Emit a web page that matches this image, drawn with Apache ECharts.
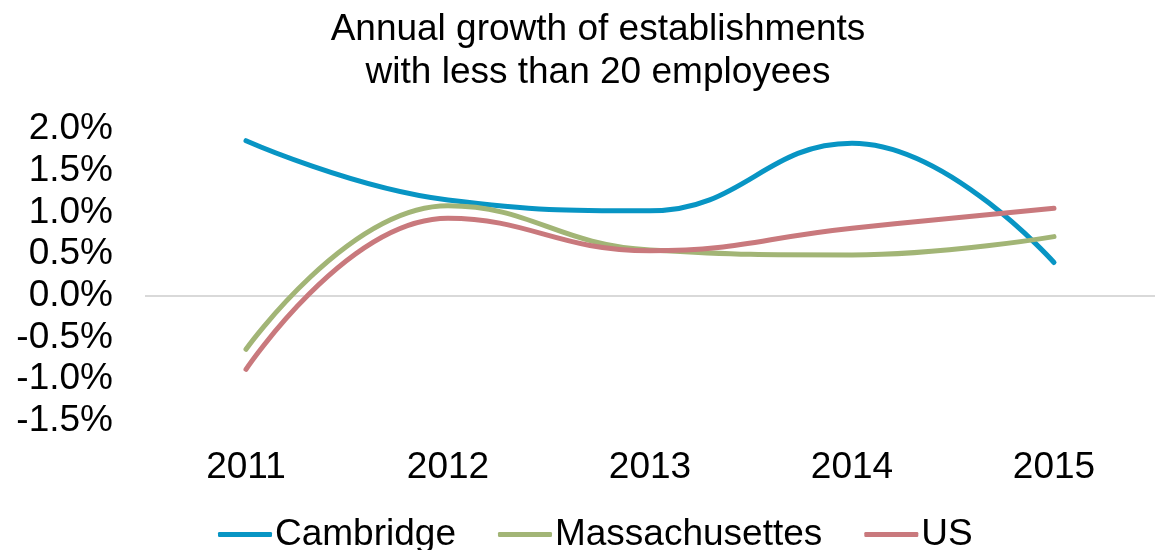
<!DOCTYPE html>
<html>
<head>
<meta charset="utf-8">
<script src="https://cdn.jsdelivr.net/npm/echarts@6/dist/echarts.min.js"></script>
<style>
  html, body { margin: 0; padding: 0; background: #fff; }
  #chart { width: 1157px; height: 550px; }
</style>
</head>
<body>
<div id="chart"></div>
<script>
// data (percent)
const years = ['2011', '2012', '2013', '2014', '2015']
const cambridge = [1.86, 1.15, 1.02, 1.83, 0.40]
const massachusetts = [-0.64, 1.08, 0.55, 0.49, 0.71]
const us = [-0.88, 0.93, 0.54, 0.81, 1.05]

const fontFamily = '"Liberation Sans", Arial, sans-serif'
const fontSize = 37
const lineWidth = 5

const chart = echarts.init(document.getElementById('chart'))

const makeSeries = (name, data, color) => ({
  name,
  type: 'line',
  data,
  smooth: 0.45,
  symbol: 'none',
  lineStyle: { color, width: lineWidth, cap: 'round' },
  itemStyle: { color },
})

chart.setOption({
  animation: false,
  textStyle: { fontFamily },
  title: {
    text: 'Annual growth of establishments\nwith less than 20 employees',
    left: 593,
    textAlign: 'center',
    top: 3,
    textStyle: { fontFamily, fontSize, fontWeight: 'normal', color: '#000', lineHeight: 43 },
  },
  legend: {
    bottom: -8,
    left: 213,
    itemWidth: 54,
    itemHeight: 5,
    itemGap: 42,
    icon: 'roundRect',
    textStyle: { fontFamily, fontSize, color: '#000', padding: [0, 0, 0, -2] },
    data: ['Cambridge', 'Massachusettes', 'US'],
  },
  grid: { left: 145, right: 2, top: 129, bottom: 129 },
  xAxis: {
    type: 'category',
    data: years,
    boundaryGap: true,
    axisLine: { show: false },
    axisTick: { show: false },
    axisLabel: { fontFamily, fontSize, color: '#000', margin: 28 },
  },
  yAxis: {
    type: 'value',
    min: -1.5,
    max: 2.0,
    interval: 0.5,
    axisLine: { show: false },
    axisTick: { show: false },
    splitLine: { show: false },
    axisLabel: {
      fontFamily, fontSize, color: '#000', margin: 32,
      formatter: v => v.toFixed(1) + '%',
    },
  },
  series: [
    {
      ...makeSeries('Cambridge', cambridge, '#0895c4'),
      markLine: {
        silent: true,
        symbol: 'none',
        label: { show: false },
        lineStyle: { color: '#d9d9d9', width: 2, type: 'solid' },
        data: [{ yAxis: 0 }],
        z: 1,
      },
    },
    makeSeries('Massachusettes', massachusetts, '#a2b576'),
    makeSeries('US', us, '#c9797d'),
  ],
})
</script>
</body>
</html>
